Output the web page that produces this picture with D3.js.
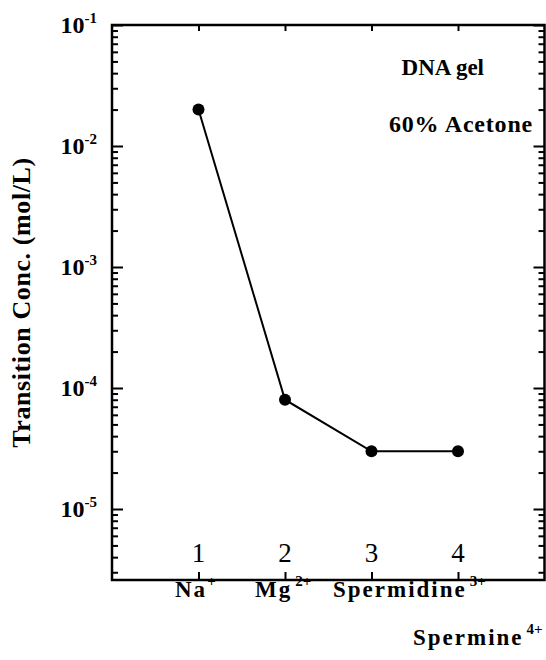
<!DOCTYPE html>
<html>
<head>
<meta charset="utf-8">
<script src="https://cdn.jsdelivr.net/npm/d3@7"></script>
<style>
	body { margin: 0; background: #fff; }
	svg { display: block; }
	text { font-family: "Liberation Serif", "Times New Roman", serif; fill: #000; }
</style>
</head>
<body>
<svg id="chart" width="546" height="660"></svg>
<script>
// data
var ionIndex = [1, 2, 3, 4];
var transitionConc = [2e-2, 8e-5, 3e-5, 3e-5];
var ionNames = ["Na", "Mg", "Spermidine", "Spermine"];
var ionCharges = ["+", "2+", "3+", "4+"];
var decadeExps = [-1, -2, -3, -4, -5];
var notes = ["DNA gel", "60% Acetone"];

var width = 546, height = 660;
var margin = { top: 25, right: 1.5, bottom: 80, left: 112 };

var svg = d3.select("#chart");

var x = d3.scaleLinear()
	.domain([0, 5])
	.range([margin.left, width - margin.right]);
var y = d3.scaleLog()
	.domain([Math.pow(10, -5 - 71 / 121), 1e-1])
	.range([height - margin.bottom, margin.top]);

// minor tick values, 2..9 of each decade inside domain
var minorVals = [];
for(var e = -6; e <= -2; e++){
	for(var m = 2; m <= 9; m++){
		var v = m * Math.pow(10, e);
		if(v >= y.domain()[0] && v <= y.domain()[1]) minorVals.push(v);
	}
}
var majorVals = decadeExps.map(function(e){ return Math.pow(10, e); });

var x0 = x.range()[0], x1 = x.range()[1];
var y0 = y.range()[0], y1 = y.range()[1];

// axes (ticks inward)
var yLeftMajor = d3.axisRight(y).tickValues(majorVals).tickSize(11).tickFormat("");
var yLeftMinor = d3.axisRight(y).tickValues(minorVals).tickSize(6).tickFormat("");
var yRightMajor = d3.axisLeft(y).tickValues(majorVals).tickSize(11).tickFormat("");
var yRightMinor = d3.axisLeft(y).tickValues(minorVals).tickSize(6).tickFormat("");
var xBottom = d3.axisTop(x).tickValues(ionIndex).tickSize(8).tickFormat("");
var xTop = d3.axisBottom(x).tickValues(ionIndex).tickSize(6).tickFormat("");

var axes = svg.append("g").attr("class", "axes");
axes.append("g").attr("transform", "translate(" + x0 + ",0)").call(yLeftMajor);
axes.append("g").attr("transform", "translate(" + x0 + ",0)").call(yLeftMinor);
axes.append("g").attr("transform", "translate(" + x1 + ",0)").call(yRightMajor);
axes.append("g").attr("transform", "translate(" + x1 + ",0)").call(yRightMinor);
axes.append("g").attr("transform", "translate(0," + y0 + ")").call(xBottom);
axes.append("g").attr("transform", "translate(0," + y1 + ")").call(xTop);
axes.selectAll(".domain").remove();
axes.selectAll(".tick line").attr("stroke", "#000").attr("stroke-width", 2);

// frame
svg.append("rect")
	.attr("x", x0).attr("y", y1)
	.attr("width", x1 - x0).attr("height", y0 - y1)
	.attr("fill", "none")
	.attr("stroke", "#000")
	.attr("stroke-width", 2.5);

// y tick labels 10^n
var ylab = svg.append("g").selectAll("text").data(decadeExps).enter()
	.append("text")
	.attr("x", x0 - 15)
	.attr("y", function(e){ return y(Math.pow(10, e)) + 8; })
	.attr("text-anchor", "end")
	.attr("font-size", 24)
	.attr("font-weight", "bold");
ylab.append("tspan").text("10");
ylab.append("tspan")
	.attr("font-size", 15)
	.attr("dy", -10)
	.text(function(e){ return String(e); });

// y title
svg.append("text")
	.attr("transform", "translate(30," + (y0 + y1) / 2 + ") rotate(-90)")
	.attr("text-anchor", "middle")
	.attr("font-size", 26)
	.attr("font-weight", "bold")
	.attr("letter-spacing", 0.6)
	.text("Transition Conc. (mol/L)");

// numbers inside the plot above bottom ticks
svg.append("g").selectAll("text").data(ionIndex).enter()
	.append("text")
	.attr("x", function(d){ return x(d); })
	.attr("y", y0 - 18)
	.attr("text-anchor", "middle")
	.attr("font-size", 27)
	.text(function(d){ return d; });

// ion labels under the axis
var ionRow = [597, 597, 597, 645];
var ionStart = [175, 255, 333, 413];
var ions = svg.append("g").selectAll("text").data(ionNames).enter()
	.append("text")
	.attr("x", function(d, i){ return ionStart[i]; })
	.attr("y", function(d, i){ return ionRow[i]; })
	.attr("font-size", 23)
	.attr("font-weight", "bold")
	.attr("letter-spacing", 2);
ions.append("tspan").text(function(d){ return d; });
ions.append("tspan")
	.attr("font-size", 15)
	.attr("letter-spacing", 0)
	.attr("dx", function(d, i){ return i == 0 ? 0 : 3; })
	.attr("dy", -11)
	.text(function(d, i){ return ionCharges[i]; });

// line + points
var line = d3.line()
	.x(function(d, i){ return x(ionIndex[i]); })
	.y(function(d){ return y(d); });
svg.append("path")
	.datum(transitionConc)
	.attr("d", line)
	.attr("fill", "none")
	.attr("stroke", "#000")
	.attr("stroke-width", 2);
svg.append("g").selectAll("circle").data(transitionConc).enter()
	.append("circle")
	.attr("cx", function(d, i){ return x(ionIndex[i]); })
	.attr("cy", function(d){ return y(d); })
	.attr("r", 6)
	.attr("fill", "#000");

// annotation
svg.append("g").selectAll("text").data(notes).enter()
	.append("text")
	.attr("x", function(d, i){ return i == 0 ? 484 : 533; })
	.attr("y", function(d, i){ return i == 0 ? 75 : 132; })
	.attr("text-anchor", "end")
	.attr("font-size", function(d, i){ return i == 0 ? 23 : 24; })
	.attr("font-weight", "bold")
	.attr("letter-spacing", function(d, i){ return i == 0 ? 0 : 0.8; })
	.text(function(d){ return d; });
</script>
</body>
</html>
